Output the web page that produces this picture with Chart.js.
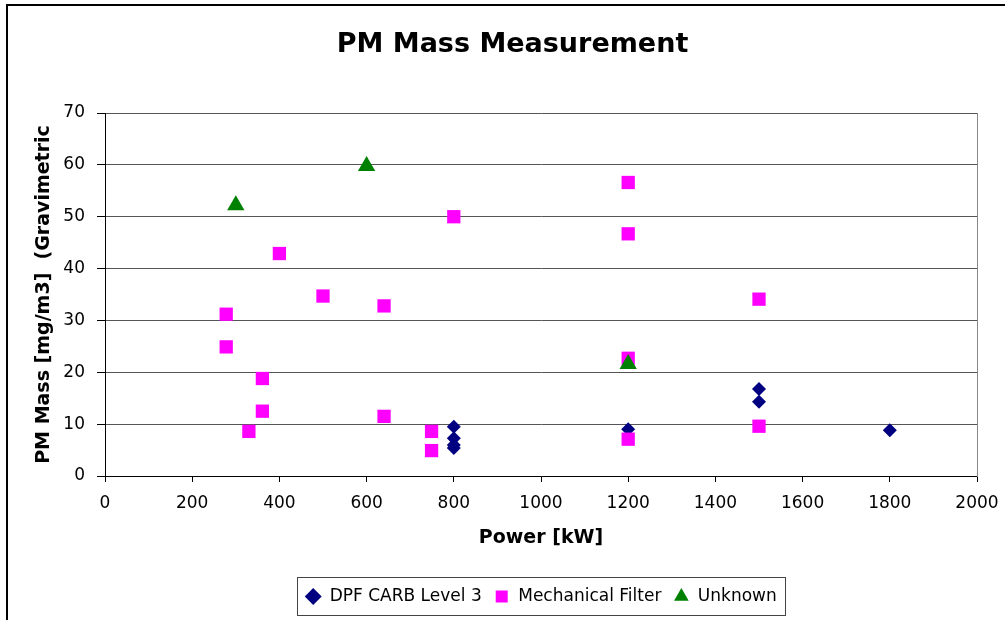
<!DOCTYPE html>
<html>
<head>
<meta charset="utf-8">
<script src="https://cdn.jsdelivr.net/npm/chart.js@4/dist/chart.umd.min.js"></script>
<style>
  html, body { margin: 0; padding: 0; background: #fff; }
  #wrap { width: 1005px; height: 620px; position: relative; }
</style>
</head>
<body>
<div id="wrap"><canvas id="c" width="1005" height="620"></canvas></div>
<script>
// ---- data ----
const chartTitle = "PM Mass Measurement";
const xAxisTitle = "Power [kW]";
const yAxisTitle = "PM Mass [mg/m3]  (Gravimetric";
const seriesNames = ["DPF CARB Level 3", "Mechanical Filter", "Unknown"];

const dpfX  = [800, 800, 800, 800, 1200, 1500, 1500, 1800];
const dpfY  = [9.5, 7.3, 6.0, 5.4, 9.0, 16.8, 14.3, 8.8];

const mechX = [278, 278, 330, 361, 361, 400, 500, 640, 640, 749, 749, 800, 1200, 1200, 1200, 1200, 1500, 1500];
const mechY = [31.2, 24.9, 8.6, 18.8, 12.5, 42.9, 34.7, 32.8, 11.5, 8.6, 4.9, 50.0, 56.6, 46.7, 22.7, 7.1, 34.1, 9.6];

const unkX  = [300, 600, 1200];
const unkY  = [52.2, 59.8, 21.6];

const xTickValues = [0, 200, 400, 600, 800, 1000, 1200, 1400, 1600, 1800, 2000];
const yTickValues = [0, 10, 20, 30, 40, 50, 60, 70];

// ---- helpers ----
const pts = (xs, ys) => xs.map((x, i) => ({ x: x, y: ys[i] }));
const FONT = "'DejaVu Sans', sans-serif";

const framePlugin = {
  id: 'frame',
  beforeDraw(chart) {
    const ctx = chart.ctx;
    ctx.save();
    ctx.fillStyle = '#fff';
    ctx.fillRect(0, 0, chart.width, chart.height);
    ctx.strokeStyle = '#000';
    ctx.lineWidth = 2;
    ctx.strokeRect(7, 5, chart.width + 10, chart.height + 10);
    ctx.restore();
  },
  afterDraw(chart) {
    const lg = chart.legend;
    if (!lg || !lg.legendHitBoxes || !lg.legendHitBoxes.length) return;
    const hb = lg.legendHitBoxes;
    let l = Infinity, r = -Infinity, t = Infinity, b = -Infinity;
    hb.forEach(h => { l = Math.min(l, h.left); r = Math.max(r, h.left + h.width); t = Math.min(t, h.top); b = Math.max(b, h.top + h.height); });
    const ctx = chart.ctx;
    ctx.save();
    ctx.strokeStyle = '#444';
    ctx.lineWidth = 1;
    ctx.strokeRect(Math.round(l - 8) + 0.5, Math.round(t - 11) + 0.5, Math.round(r - l + 16), Math.round(b - t + 21));
    ctx.restore();
  }
};

new Chart(document.getElementById('c'), {
  type: 'scatter',
  data: {
    datasets: [
      { label: seriesNames[0], data: pts(dpfX, dpfY), pointStyle: 'rectRot', pointRadius: 7, pointHoverRadius: 7,
        backgroundColor: '#000080', borderColor: '#000080', pointBorderWidth: 0, order: 3 },
      { label: seriesNames[1], data: pts(mechX, mechY), pointStyle: 'rect', pointRadius: 9.4, pointHoverRadius: 9.4,
        backgroundColor: '#FF00FF', borderColor: '#FF00FF', pointBorderWidth: 0, order: 2 },
      { label: seriesNames[2], data: pts(unkX, unkY), pointStyle: 'triangle', pointRadius: 10, pointHoverRadius: 10,
        backgroundColor: '#008000', borderColor: '#008000', pointBorderWidth: 0, order: 1 }
    ]
  },
  options: {
    responsive: false,
    devicePixelRatio: 1,
    animation: false,
    layout: { padding: { left: 20, right: 0, top: 0, bottom: 5 } },
    plugins: {
      tooltip: { enabled: false },
      title: {
        display: true, text: chartTitle, color: '#000',
        font: { family: FONT, size: 27, weight: 'bold' },
        padding: { top: 29, bottom: 51.6 }
      },
      legend: {
        display: true, position: 'bottom', fullSize: false,
        labels: {
          usePointStyle: true, boxWidth: 16, boxHeight: 12, padding: 12,
          color: '#000', font: { family: FONT, size: 17 },
          sort: (a, b) => a.datasetIndex - b.datasetIndex
        }
      }
    },
    scales: {
      x: {
        type: 'linear', position: 'bottom', min: 0, max: 2000,
        afterBuildTicks: s => { s.ticks = xTickValues.map(v => ({ value: v })); },
        afterFit: s => { s.height = 100; },
        grid: { drawOnChartArea: false, drawTicks: true, tickLength: 6, tickColor: '#000', color: '#000' },
        border: { display: true, color: '#000', width: 1 },
        ticks: { color: '#000', font: { family: FONT, size: 17, lineHeight: 2.235 }, padding: 3, maxRotation: 0,
                 callback: v => String(v) },
        title: { display: true, text: xAxisTitle, color: '#000', font: { family: FONT, size: 19, weight: 'bold' }, padding: { top: 0, bottom: 26.6 } }
      },
      y: {
        type: 'linear', position: 'left', min: 0, max: 70,
        afterBuildTicks: s => { s.ticks = yTickValues.map(v => ({ value: v })); },
        afterFit: s => { s.width = 85; },
        grid: { drawOnChartArea: true, drawTicks: true, tickLength: 8, tickColor: '#000', color: '#555', lineWidth: 1 },
        border: { display: true, color: '#000', width: 1 },
        ticks: { color: '#000', font: { family: FONT, size: 17 }, padding: 12, callback: v => String(v) },
        title: { display: true, text: yAxisTitle, color: '#000', font: { family: FONT, size: 19, weight: 'bold' }, padding: { top: 12.6, bottom: 0 } }
      },
      yRight: {
        type: 'linear', position: 'right', min: 0, max: 70, display: true,
        afterFit: s => { s.width = 28; },
        grid: { display: false, drawTicks: false },
        border: { display: true, color: '#888', width: 1 },
        ticks: { display: false }
      }
    }
  },
  plugins: [framePlugin]
});
</script>
</body>
</html>
